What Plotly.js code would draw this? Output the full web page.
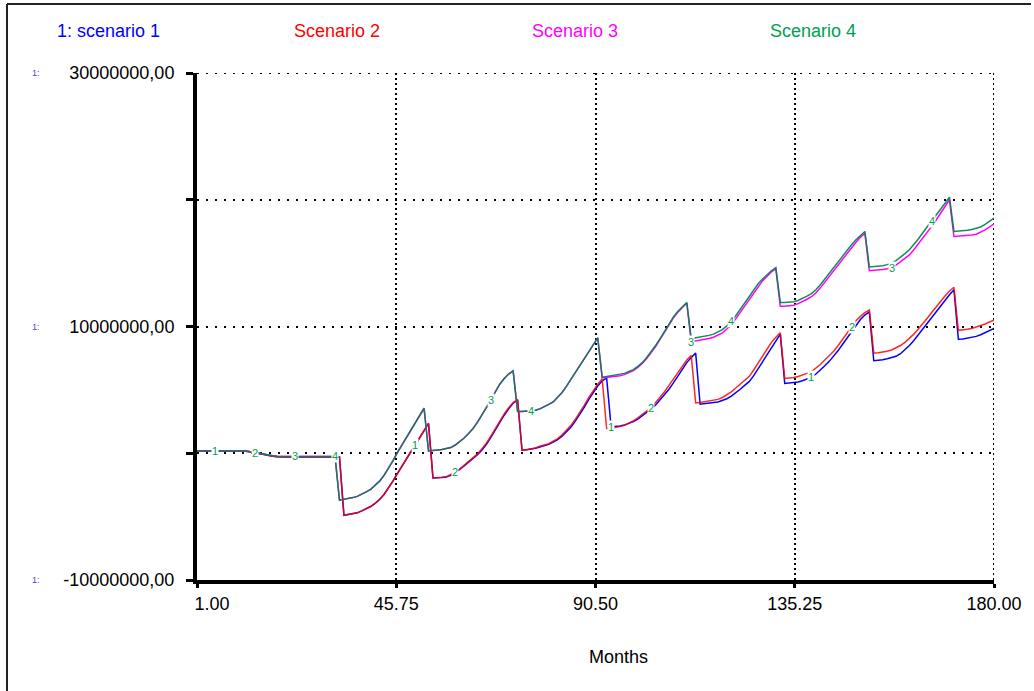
<!DOCTYPE html>
<html>
<head>
<meta charset="utf-8">
<script src="https://cdn.plot.ly/plotly-3.0.1.min.js"></script>
<style>
  html, body { margin: 0; padding: 0; background: #ffffff; }
  #chart { width: 1034px; height: 691px; }
</style>
</head>
<body>
<div id="chart"></div>
<script>
// ---- data (values in millions) ----
const months = [
  1,2,3,4,5,6,7,8,9,10,11,12,13,14,15,16,17,18,19,20,
  21,22,23,24,25,26,27,28,29,30,31,32,33,34,35,36,37,38,39,40,
  41,42,43,44,45,46,47,48,49,50,51,52,53,54,55,56,57,58,59,60,
  61,62,63,64,65,66,67,68,69,70,71,72,73,74,75,76,77,78,79,80,
  81,82,83,84,85,86,87,88,89,90,91,92,93,94,95,96,97,98,99,100,
  101,102,103,104,105,106,107,108,109,110,111,112,113,114,115,116,117,118,119,120,
  121,122,123,124,125,126,127,128,129,130,131,132,133,134,135,136,137,138,139,140,
  141,142,143,144,145,146,147,148,149,150,151,152,153,154,155,156,157,158,159,160,
  161,162,163,164,165,166,167,168,169,170,171,172,173,174,175,176,177,178,179,180
];

const scenario1 = [
  0.18,0.18,0.18,0.18,0.18,0.18,0.18,0.18,0.18,0.18,0.18,
  0.16,0.12,0.05,-0.03,-0.12,-0.19,-0.24,-0.27,
  -0.3,-0.3,-0.3,-0.3,-0.3,-0.3,-0.3,-0.3,-0.3,-0.3,-0.3,-0.3,-0.3,-0.3,
  -4.9,-4.85,-4.8,-4.7,-4.55,-4.4,-4.2,-3.95,-3.65,-3.25,-2.75,-2.2,-1.6,-1.0,-0.45,0.1,0.65,1.2,1.75,2.35,
  -1.95,-1.95,-1.92,-1.88,-1.75,-1.55,-1.3,-1.0,-0.7,-0.42,-0.12,0.25,0.7,1.25,1.85,2.5,3.0,3.5,3.95,4.2,
  0.24,0.27,0.31,0.39,0.5,0.6,0.7,0.88,1.07,1.35,1.68,2.07,2.55,3.05,3.65,4.25,4.8,5.3,5.7,5.95,
  2.1,2.1,2.15,2.22,2.35,2.5,2.7,2.95,3.2,3.5,3.8,4.2,4.6,5.05,5.55,6.1,6.65,7.15,7.55,7.9,
  3.87,3.9,3.95,4.0,4.05,4.15,4.3,4.5,4.75,5.05,5.35,5.65,6.1,6.65,7.25,7.85,8.4,8.95,9.4,
  5.5,5.52,5.55,5.62,5.72,5.85,6.0,6.25,6.55,6.9,7.25,7.65,8.1,8.6,9.1,9.6,10.1,10.55,10.9,11.15,
  7.3,7.32,7.37,7.45,7.55,7.65,7.85,8.15,8.5,8.9,9.35,9.8,10.25,10.7,11.15,11.65,12.1,12.5,12.9,
  9.0,9.02,9.07,9.13,9.22,9.35,9.5,9.68,9.85
];

const scenario2 = [
  0.18,0.18,0.18,0.18,0.18,0.18,0.18,0.18,0.18,0.18,0.18,
  0.16,0.12,0.05,-0.03,-0.12,-0.19,-0.24,-0.27,
  -0.3,-0.3,-0.3,-0.3,-0.3,-0.3,-0.3,-0.3,-0.3,-0.3,-0.3,-0.3,-0.3,-0.3,
  -4.9,-4.85,-4.8,-4.7,-4.55,-4.4,-4.2,-3.95,-3.65,-3.25,-2.75,-2.2,-1.6,-1.0,-0.45,0.1,0.65,1.2,1.75,2.35,
  -1.95,-1.95,-1.9,-1.85,-1.7,-1.5,-1.25,-0.95,-0.65,-0.35,-0.05,0.35,0.8,1.35,1.95,2.6,3.1,3.6,4.0,4.25,
  0.24,0.28,0.33,0.42,0.55,0.65,0.75,0.95,1.15,1.45,1.8,2.2,2.7,3.2,3.8,4.4,4.95,5.45,5.85,
  1.95,1.97,2.02,2.1,2.2,2.35,2.55,2.8,3.05,3.3,3.6,4.0,4.4,4.85,5.35,5.85,6.4,6.95,7.35,7.7,
  3.97,4.0,4.05,4.12,4.2,4.25,4.4,4.6,4.85,5.15,5.45,5.75,6.05,6.55,7.1,7.7,8.25,8.75,9.15,9.5,
  5.9,5.92,5.97,6.05,6.15,6.3,6.45,6.7,7.0,7.35,7.7,8.05,8.5,9.0,9.5,10.0,10.45,10.8,11.1,11.3,
  7.9,7.92,7.97,8.05,8.15,8.3,8.5,8.75,9.05,9.4,9.8,10.2,10.65,11.1,11.55,12.0,12.4,12.8,13.1,
  9.7,9.72,9.78,9.85,9.95,10.05,10.2,10.35,10.5
];

const scenario3 = [
  0.18,0.18,0.18,0.18,0.18,0.18,0.18,0.18,0.18,0.18,0.18,
  0.16,0.12,0.05,-0.02,-0.1,-0.16,-0.2,-0.23,
  -0.25,-0.25,-0.25,-0.25,-0.25,-0.25,-0.25,-0.25,-0.25,-0.25,-0.25,-0.25,-0.25,
  -3.7,-3.65,-3.6,-3.5,-3.4,-3.25,-3.05,-2.85,-2.55,-2.2,-1.75,-1.2,-0.6,0.05,0.65,1.25,1.85,2.45,3.0,3.55,
  0.18,0.2,0.25,0.3,0.35,0.45,0.65,0.9,1.2,1.55,1.95,2.45,3.0,3.6,4.2,4.85,5.45,5.9,6.25,6.5,
  3.3,3.3,3.32,3.35,3.4,3.5,3.65,3.85,4.05,4.4,4.8,5.3,5.85,6.45,7.0,7.55,8.1,8.6,9.1,
  5.95,5.98,6.02,6.07,6.12,6.2,6.33,6.52,6.78,7.08,7.47,7.92,8.42,8.98,9.58,10.18,10.68,11.13,11.5,11.85,
  8.8,8.85,8.9,8.97,9.05,9.15,9.3,9.5,9.8,10.15,10.6,11.1,11.6,12.15,12.7,13.2,13.6,13.95,14.3,14.55,
  11.6,11.6,11.62,11.68,11.8,11.95,12.15,12.35,12.65,13.05,13.5,13.95,14.45,14.9,15.35,15.8,16.25,16.65,17.05,17.35,
  14.4,14.42,14.45,14.5,14.55,14.65,14.85,15.1,15.35,15.65,16.05,16.5,16.95,17.45,17.9,18.4,18.9,19.45,20.0,
  17.1,17.12,17.15,17.18,17.22,17.28,17.42,17.62,17.85,18.1
];

const scenario4 = [
  0.18,0.18,0.18,0.18,0.18,0.18,0.18,0.18,0.18,0.18,0.18,
  0.16,0.12,0.05,-0.02,-0.1,-0.16,-0.2,-0.23,
  -0.25,-0.25,-0.25,-0.25,-0.25,-0.25,-0.25,-0.25,-0.25,-0.25,-0.25,-0.25,-0.25,
  -3.7,-3.65,-3.6,-3.5,-3.4,-3.25,-3.05,-2.85,-2.55,-2.2,-1.75,-1.2,-0.6,0.05,0.65,1.25,1.85,2.45,3.0,3.55,
  0.18,0.2,0.25,0.3,0.35,0.45,0.65,0.9,1.2,1.55,1.95,2.45,3.0,3.6,4.2,4.85,5.45,5.9,6.25,6.5,
  3.3,3.3,3.32,3.35,3.4,3.5,3.65,3.85,4.05,4.4,4.8,5.3,5.85,6.45,7.0,7.55,8.1,8.6,9.1,
  6.0,6.05,6.1,6.15,6.2,6.3,6.45,6.6,6.85,7.15,7.55,8.0,8.5,9.05,9.65,10.25,10.75,11.2,11.55,11.9,
  9.05,9.1,9.15,9.2,9.3,9.4,9.55,9.75,10.05,10.4,10.85,11.35,11.85,12.4,12.9,13.35,13.75,14.1,14.4,14.65,
  11.9,11.9,11.92,11.95,12.05,12.2,12.4,12.6,12.9,13.3,13.75,14.2,14.7,15.15,15.6,16.0,16.45,16.85,17.2,17.5,
  14.7,14.72,14.75,14.8,14.88,15.0,15.2,15.45,15.75,16.05,16.45,16.9,17.4,17.9,18.35,18.8,19.25,19.7,20.2,
  17.5,17.52,17.55,17.6,17.65,17.72,17.85,18.05,18.3,18.55
];

const seriesNames = ['1: scenario 1', 'Scenario 2', 'Scenario 3', 'Scenario 4'];
const xTickVals = [1, 45.75, 90.5, 135.25, 180];
const xTickText = ['\u00a0\u00a0\u00a0\u00a0\u00a0\u00a01.00', '45.75', '90.50', '135.25', '180.00'];
const yTickVals = [-10, 0, 10, 20, 30];
const yTickText = ['-10000000,00', '', '10000000,00', '', '30000000,00'];
const yLabelledTicks = [30, 10, -10];
const xTitle = 'Months';
const xRange = [1, 180];
const yRange = [-10, 30];

// series identification labels along the lines (month, series number)
const idLabelMonths = [5,14,23,32,50,59,67,76,94,103,112,121,139,148,157,166];
const idLabelSeries = [1,2,3,4,1,2,3,4,1,2,3,4,1,2,3,4];

// ---- styling ----
const colors = ['#0000ff', '#ff0000', '#ff00ff', '#008050'];
const labelGreen = '#00a050';
const FONT = '"Liberation Sans", Arial, sans-serif';

const W = 1034, H = 691;
const M = { l: 197, r: 40, t: 73, b: 111 };
const PW = W - M.l - M.r, PH = H - M.t - M.b;
const px = x => (x - M.l) / PW;          // pixel -> paper x
const py = y => (H - M.b - y) / PH;      // pixel -> paper y

const allSeries = [scenario1, scenario2, scenario3, scenario4];
const opac = [1, 0.85, 1, 0.92];
const traces = allSeries.map((s, i) => ({
  type: 'scatter', mode: 'lines', name: seriesNames[i],
  x: months, y: s,
  line: { color: colors[i], width: 1.5 },
  opacity: opac[i],
  hoverinfo: 'x+y+name'
}));

const annotations = [];
// legend-like coloured titles at the top
const legendCenters = [108, 337, 575, 813];
seriesNames.forEach((n, i) => {
  annotations.push({
    xref: 'paper', yref: 'paper', x: px(legendCenters[i]), y: py(31),
    xanchor: 'center', yanchor: 'middle', showarrow: false,
    text: n, font: { family: FONT, size: 18, color: i === 3 ? labelGreen : colors[i] }
  });
});
// small "1:" scale markers
yLabelledTicks.forEach(v => {
  annotations.push({
    xref: 'paper', yref: 'y', x: px(36), y: v,
    xanchor: 'center', yanchor: 'middle', showarrow: false,
    text: '1:', font: { family: FONT, size: 9, color: '#4444ff' }
  });
});
// line id labels
idLabelMonths.forEach((m, k) => {
  const si = idLabelSeries[k] - 1;
  annotations.push({
    xref: 'x', yref: 'y', x: m, y: allSeries[si][months.indexOf(m)],
    xanchor: 'center', yanchor: 'middle', showarrow: false,
    text: String(idLabelSeries[k]), bgcolor: '#ffffff', borderpad: 0,
    font: { family: FONT, size: 11, color: labelGreen }
  });
});
// x axis title
annotations.push({
  xref: 'paper', yref: 'paper', x: px(618), y: py(657),
  xanchor: 'center', yanchor: 'middle', showarrow: false,
  text: xTitle, font: { family: FONT, size: 18, color: '#000000' }
});

const shapes = [
  // outer window frame
  { type: 'line', xref: 'paper', yref: 'paper', x0: px(7), x1: px(7), y0: py(4), y1: py(700),
    line: { color: '#222222', width: 2 } },
  { type: 'line', xref: 'paper', yref: 'paper', x0: px(7), x1: px(1031), y0: py(4), y1: py(4),
    line: { color: '#222222', width: 2 } },
  // grid lines at the range edges (top and right), which Plotly omits
  { type: 'line', xref: 'x', yref: 'y', x0: xRange[0], x1: xRange[1], y0: yRange[1], y1: yRange[1],
    layer: 'below', line: { color: '#000000', width: 2, dash: '2px,7px' } },
  { type: 'line', xref: 'x', yref: 'y', x0: xRange[1], x1: xRange[1], y0: yRange[0], y1: yRange[1],
    layer: 'below', line: { color: '#000000', width: 2, dash: '2px,3px' } }
];

const layout = {
  width: W, height: H,
  margin: M,
  paper_bgcolor: '#ffffff', plot_bgcolor: '#ffffff',
  showlegend: false,
  font: { family: FONT, size: 18, color: '#000000' },
  xaxis: {
    range: xRange, tickmode: 'array', tickvals: xTickVals, ticktext: xTickText,
    showline: true, linecolor: '#000000', linewidth: 4,
    ticks: 'outside', ticklen: 4, tickwidth: 3, tickcolor: '#000000',
    showgrid: true, gridcolor: '#000000', gridwidth: 2, griddash: '2px,3px',
    zeroline: false, ticklabelstandoff: 0,
    tickfont: { family: FONT, size: 18, color: '#000000' }
  },
  yaxis: {
    range: yRange, tickmode: 'array', tickvals: yTickVals, ticktext: yTickText,
    showline: true, linecolor: '#000000', linewidth: 4,
    ticks: 'outside', ticklen: 7, tickwidth: 3, tickcolor: '#000000',
    showgrid: true, gridcolor: '#000000', gridwidth: 2, griddash: '2px,7px',
    zeroline: false, ticklabelstandoff: 8,
    tickfont: { family: FONT, size: 18, color: '#000000' }
  },
  annotations: annotations,
  shapes: shapes
};

Plotly.newPlot('chart', traces, layout, { displayModeBar: false, staticPlot: true });
</script>
</body>
</html>
